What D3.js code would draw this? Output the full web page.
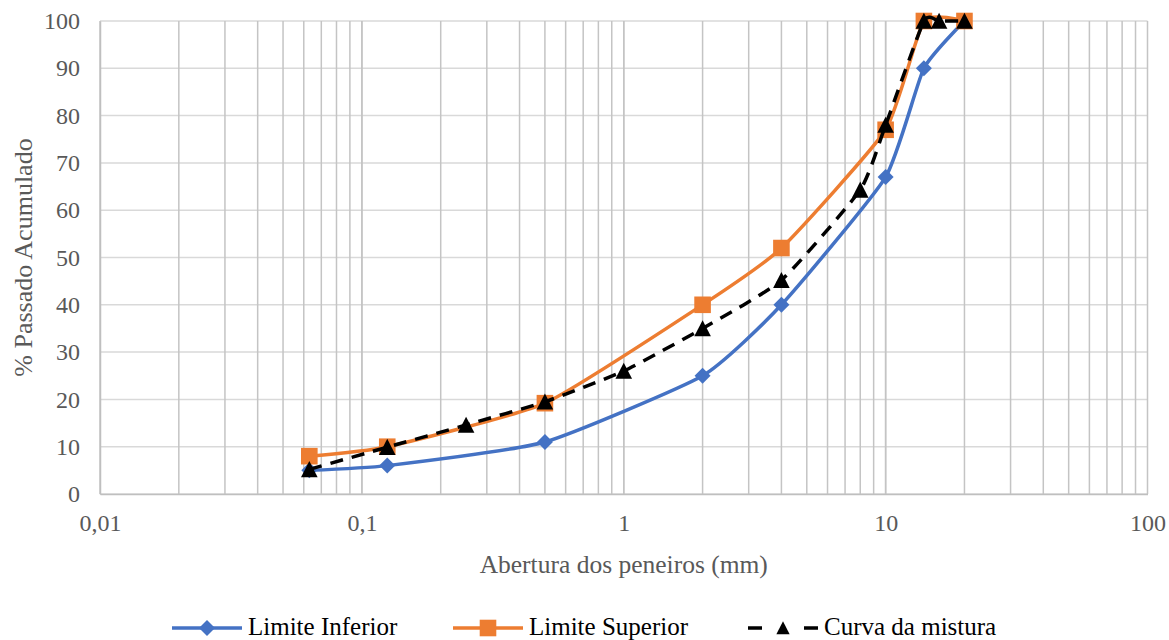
<!DOCTYPE html>
<html>
<head>
<meta charset="utf-8">
<script src="https://cdn.jsdelivr.net/npm/d3@7"></script>
<style>
	body { margin: 0; background: #fff; }
	text { font-family: 'Liberation Serif', 'Times New Roman', serif; fill: #595959; }
</style>
</head>
<body>
<div id="chart"><svg width="1169" height="640"></svg></div>
<script>
// sieve openings (mm) and % passing
var xInferior = [0.063, 0.125, 0.5, 2, 4, 10, 14, 20];
var yInferior = [5, 6, 11, 25, 40, 67, 90, 100];
var xSuperior = [0.063, 0.125, 0.5, 2, 4, 10, 14, 20];
var ySuperior = [8, 10, 19.2, 40, 52, 77, 100, 100];
var xMistura = [0.063, 0.125, 0.25, 0.5, 1, 2, 4, 8, 10, 14, 16, 20];
var yMistura = [5.2, 9.9, 14.6, 19.5, 26, 35, 45.2, 64.3, 78, 100, 100, 100];
var xTicks = [0.01, 0.1, 1, 10, 100];
var xTickLabels = ['0,01', '0,1', '1', '10', '100'];
var yTicks = [0, 10, 20, 30, 40, 50, 60, 70, 80, 90, 100];
var seriesNames = ['Limite Inferior', 'Limite Superior', 'Curva da mistura'];

var margin = { top: 21, left: 100, bottom: 146, right: 21.5 };
var svg = d3.select('#chart > svg');
var width = 1169 - margin.left - margin.right;
var height = 640 - margin.top - margin.bottom;

var xScale = d3.scaleLog().domain([0.01, 100]).range([0, width]);
var yScale = d3.scaleLinear().domain([0, 100]).range([height, 0]);

var group = svg.append('g')
	.attr('transform', 'translate(' + [margin.left, margin.top] + ')');

// grid
var minor = [];
[0.01, 0.1, 1, 10].forEach(function(d) {
	for (var i = 1; i <= 10; i++) minor.push(d * i);
});
group.append('g').selectAll('line').data(yTicks).enter().append('line')
	.attr('x1', 0).attr('x2', width)
	.attr('y1', function(d) { return yScale(d) })
	.attr('y2', function(d) { return yScale(d) })
	.attr('stroke', '#d9d9d9').attr('stroke-width', 1.5);
group.append('g').selectAll('line').data(minor).enter().append('line')
	.attr('x1', function(d) { return xScale(d) })
	.attr('x2', function(d) { return xScale(d) })
	.attr('y1', 0).attr('y2', height)
	.attr('stroke', '#c4c4c4').attr('stroke-width', 1.5);

// axes
var xAxis = group.append('g')
	.attr('transform', 'translate(0,' + height + ')')
	.call(d3.axisBottom(xScale).tickValues(xTicks).tickSize(0).tickPadding(20)
		.tickFormat(function(d, i) { return xTickLabels[i] }));
var yAxis = group.append('g')
	.call(d3.axisLeft(yScale).tickValues(yTicks).tickSize(0).tickPadding(20));
[xAxis, yAxis].forEach(function(a) {
	a.select('.domain').attr('stroke', '#bfbfbf').attr('stroke-width', 1.5);
	a.selectAll('text').attr('font-size', 24)
		.attr('font-family', 'Liberation Serif');
});

svg.append('text')
	.attr('x', margin.left + xScale(1))
	.attr('y', 573)
	.attr('text-anchor', 'middle')
	.attr('font-size', 25.5)
	.text('Abertura dos peneiros (mm)');
svg.append('text')
	.attr('transform', 'translate(32,' + (margin.top + height / 2) + ') rotate(-90)')
	.attr('text-anchor', 'middle')
	.attr('font-size', 26)
	.text('% Passado Acumulado');

// marker shapes, centred on the point
var diamond = 'M0,-8L8,0L0,8L-8,0Z';
var square = 'M-8.3,-8.3H8.3V8.3H-8.3Z';
var triangle = 'M0,-8.3L8.3,7.8H-8.3Z';

var series = [
	{ xs: xInferior, ys: yInferior, color: '#4472c4', marker: diamond, dash: null },
	{ xs: xSuperior, ys: ySuperior, color: '#ed7d31', marker: square, dash: null },
	{ xs: xMistura, ys: yMistura, color: '#000000', marker: triangle, dash: '13,9' }
];

var line = d3.line()
	.x(function(d) { return xScale(d[0]) })
	.y(function(d) { return yScale(d[1]) })
	.curve(d3.curveCardinal.tension(0.5));

series.forEach(function(s) {
	var pts = s.xs.map(function(x, i) { return [x, s.ys[i]] });
	group.append('path')
		.datum(pts)
		.attr('d', line)
		.attr('fill', 'none')
		.attr('stroke', s.color)
		.attr('stroke-width', 3.5)
		.attr('stroke-dasharray', s.dash);
	group.append('g').selectAll('path').data(pts).enter().append('path')
		.attr('transform', function(d) { return 'translate(' + [xScale(d[0]), yScale(d[1])] + ')' })
		.attr('d', s.marker)
		.attr('fill', s.color);
});

// legend
var legendX = [172, 453, 748];
var legend = svg.append('g');
series.forEach(function(s, i) {
	var g = legend.append('g').attr('transform', 'translate(' + legendX[i] + ',628)');
	g.append('line')
		.attr('x1', 0).attr('x2', 70)
		.attr('stroke', s.color).attr('stroke-width', 3.5)
		.attr('stroke-dasharray', s.dash ? '14,42,14' : null);
	g.append('path')
		.attr('transform', 'translate(35,0)' + (s.dash ? ' scale(0.8)' : ''))
		.attr('d', s.marker)
		.attr('fill', s.color);
	g.append('text')
		.attr('x', 76).attr('y', 7)
		.attr('font-size', 25)
		.style('fill', '#000')
		.text(seriesNames[i]);
});
</script>
</body>
</html>
